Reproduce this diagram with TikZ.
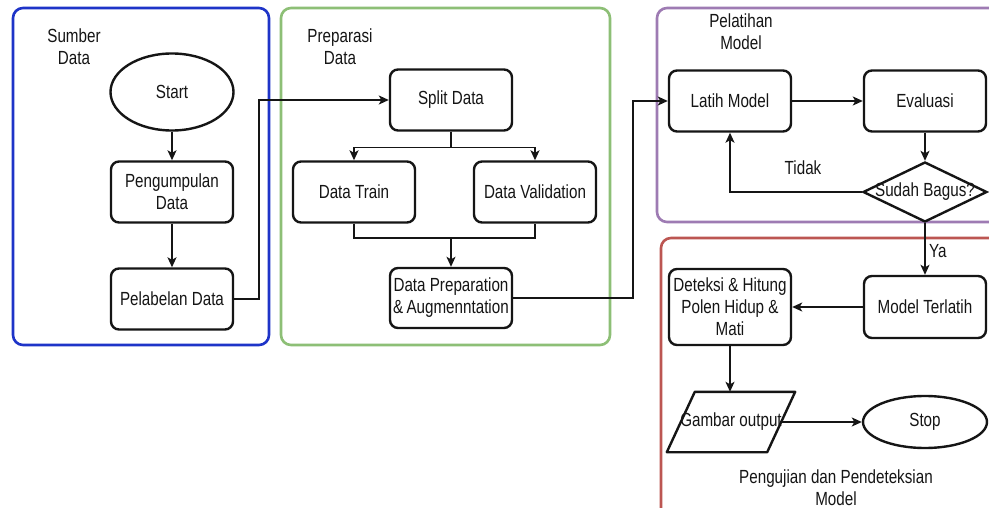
\documentclass[tikz,border=0pt]{standalone}
\usepackage{fontspec}
\setmainfont{Liberation Sans}[FakeStretch=0.8]
\usetikzlibrary{arrows.meta,shapes.geometric}
\definecolor{inkc}{HTML}{151515}
\definecolor{grpblue}{HTML}{1E34C8}
\definecolor{grpgreen}{HTML}{8DBF76}
\definecolor{grppurple}{HTML}{9E7BB3}
\definecolor{grpred}{HTML}{BC5652}
\begin{document}
\begin{tikzpicture}[x=1pt,y=-1pt,
  txt/.style={font=\fontsize{19}{22}\selectfont, text=inkc, align=center},
  box/.style={txt, draw=inkc, line width=2.4pt, rounded corners=8pt,
    minimum width=122pt, minimum height=61pt, inner sep=1pt},
  term/.style={txt, ellipse, draw=inkc, line width=2.4pt, inner sep=0pt},
  group/.style={line width=2.6pt, rounded corners=10pt},
  link/.style={draw=inkc, line width=1.5pt, -{Stealth[length=10pt,width=9pt,inset=2.5pt]}},
  plain/.style={draw=inkc, line width=1.5pt}
]
\fill[white] (0,0) rectangle (989,508);
\clip (0,0) rectangle (989,508);

% group frames
\draw[group, grpblue]   (13,8)  rectangle (269,345);
\draw[group, grpgreen]  (281,8) rectangle (610,345);
\draw[group, grppurple] (657,8) rectangle (1005,222);
\draw[group, grpred]    (661,238) rectangle (1005,530);

% group titles
\node[txt] (tsumber) at (74,47) {Sumber\\Data};
\node[txt] (tprep) at (340,47) {Preparasi\\Data};
\node[txt] (tlatih) at (741,32) {Pelatihan\\Model};
\node[txt] (tuji) at (836,488) {Pengujian dan Pendeteksian\\Model};

% Sumber Data
\node[term, minimum width=123pt, minimum height=77pt] (start) at (172,92) {Start};
\node[box] (collect) at (172,192) {Pengumpulan\\Data};
\node[box] (label) at (172,299) {Pelabelan Data};

% Preparasi Data
\node[box] (split) at (451,100) {Split Data};
\node[box] (train) at (354,192) {Data Train};
\node[box] (valid) at (535,192) {Data Validation};
\node[box, minimum height=60pt] (prep) at (451,298) {Data Preparation\\\&\,Augmenntation};
\coordinate (join) at (451,238);

% Pelatihan Model
\node[box] (latih) at (730,101) {Latih Model};
\node[box] (eval) at (925,101) {Evaluasi};
\node[txt, diamond, draw=inkc, line width=2.4pt, minimum width=124pt,
      minimum height=60pt, inner sep=0pt] (check) at (925,192) {\makebox[0pt]{Sudah Bagus?}};

% Pengujian dan Pendeteksian Model
\node[box, minimum height=62pt] (trained) at (925,307) {Model Terlatih};
\node[box, minimum height=76pt] (detect) at (730,307) {Deteksi \& Hitung\\Polen Hidup \&\\Mati};
\node[txt, minimum width=128pt, minimum height=60pt, inner sep=0pt] (gout) at (731,422) {Gambar output};
\draw[inkc, line width=2.4pt, line join=round]
  ([xshift=28pt]gout.north west) -- (gout.north east)
  -- ([xshift=-28pt]gout.south east) -- (gout.south west) -- cycle;
\node[term, minimum width=124pt, minimum height=52pt] (stop) at (925,422) {Stop};

% connectors
\draw[link] (start) -- (collect);
\draw[link] (collect) -- (label);
\draw[link] (label.east) -- ++(25,0) |- (split.west);
\draw[link] (split.south) -- ++(0,16) -| (train.north);
\draw[link] (split.south) -- ++(0,16) -| (valid.north);
\draw[plain] (train.south) |- (join) -| (valid.south);
\draw[link] (join) -- (prep.north);
\draw[link] (prep.east) -- ++(120,0) |- (latih.west);
\draw[link] (latih) -- (eval);
\draw[link] (eval) -- (check);
\draw[link] (check.west) -| (latih.south);
\node[txt] (tidak) at (803,168) {Tidak};
\draw[link] (check.south) -- (trained.north);
\node[txt, anchor=west, inner sep=0pt] (ya) at (929,251) {Ya};
\draw[link] (trained.west) -- (detect.east);
\draw[link] (detect.south) -- (detect.south |- gout.north);
\draw[link] ([xshift=-14pt]gout.east) -- (stop.west);
\end{tikzpicture}
\end{document}
